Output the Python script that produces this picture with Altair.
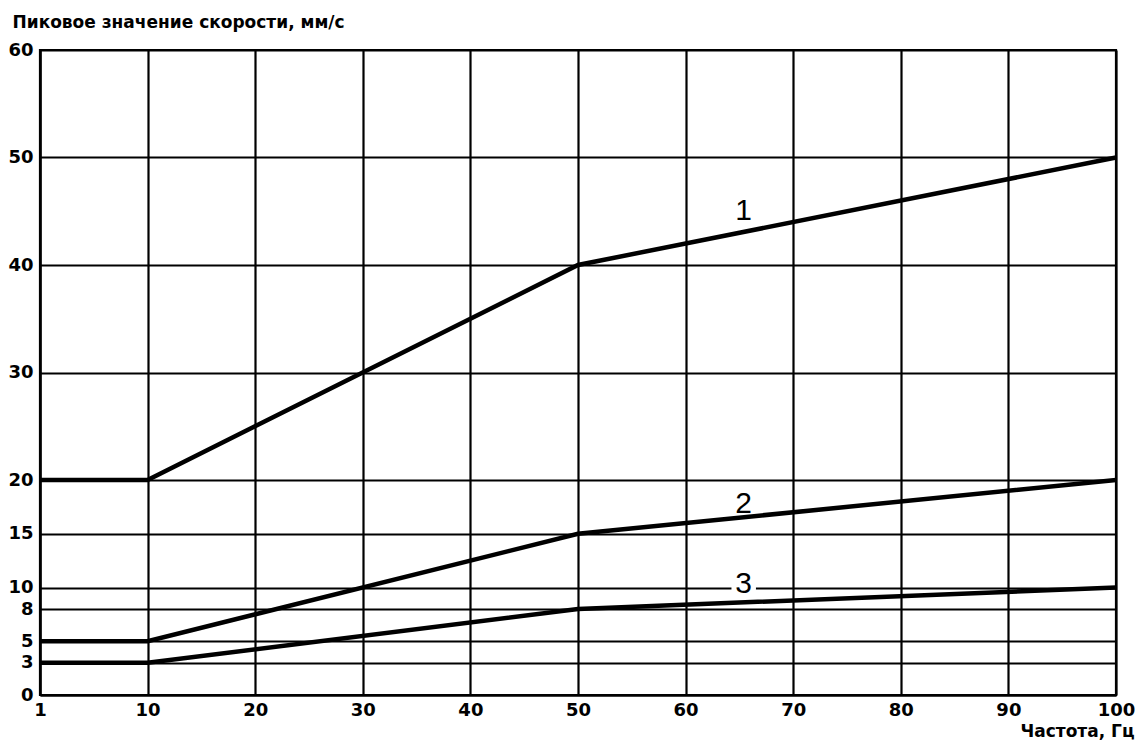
import altair as alt
import pandas as pd

# Data
freq = [1, 10, 50, 100]
curve1 = [20, 20, 40, 50]
curve2 = [5, 5, 15, 20]
curve3 = [3, 3, 8, 10]

x_ticks = [1, 10, 20, 30, 40, 50, 60, 70, 80, 90, 100]
y_ticks = [0, 3, 5, 8, 10, 15, 20, 30, 40, 50, 60]

label_names = ["1", "2", "3"]
label_freq = [65.4, 65.4, 65.4]
label_vel = [45.0, 17.8, 10.3]

rows = []
for name, vals in (("1", curve1), ("2", curve2), ("3", curve3)):
    for f, v in zip(freq, vals):
        rows.append({"curve": name, "freq": f, "vel": v})
df = pd.DataFrame(rows)
lab = pd.DataFrame({"name": label_names, "freq": label_freq, "vel": label_vel})

W, H = 1076, 645
AXFONT = "DejaVu Sans"
NUMFONT = "Liberation Sans"

xscale = alt.Scale(domain=[1, 10, 100], range=[0, W / 10, W], nice=False, zero=False)
yscale = alt.Scale(domain=[0, 60], nice=False, zero=True)

xaxis = alt.Axis(
    values=x_ticks, title="Частота, Гц", grid=True, ticks=False,
    labelFlush=False, labelOverlap=False, labelPadding=6,
    titleAlign="right", titleAnchor="start", titleX=W + 18, titleY=41,
    titleBaseline="alphabetic", titleAngle=0,
)
yaxis = alt.Axis(
    values=y_ticks, title="Пиковое значение скорости, мм/с", grid=True, ticks=False,
    labelFlush=False, labelOverlap=False, labelPadding=7,
    titleAngle=0, titleAlign="left", titleX=-28, titleY=-28,
    titleBaseline="middle", titleAnchor="start",
)

lines = alt.Chart(df).mark_line(color="black", strokeWidth=4.5, strokeJoin="miter", strokeCap="butt").encode(
    x=alt.X("freq:Q", scale=xscale, axis=xaxis),
    y=alt.Y("vel:Q", scale=yscale, axis=yaxis),
    detail="curve:N",
)

mask = alt.Chart(lab[lab["name"] == "3"]).mark_point(
    shape="square", filled=True, color="white", opacity=1, size=600
).encode(
    x=alt.X("freq:Q", scale=xscale),
    y=alt.Y("vel:Q", scale=yscale),
)

texts = alt.Chart(lab).mark_text(
    font=NUMFONT, fontSize=30, fontWeight="normal", color="black", baseline="middle", align="center"
).encode(
    x=alt.X("freq:Q", scale=xscale),
    y=alt.Y("vel:Q", scale=yscale),
    text="name:N",
)

chart = alt.layer(mask, lines, texts).properties(
    width=W, height=H,
    autosize=alt.AutoSizeParams(type="none"),
    padding={"left": 32, "top": 42, "right": 19, "bottom": 45},
).configure(
    font=AXFONT,
).configure_view(
    stroke="black", strokeWidth=2.2,
).configure_axis(
    domainColor="black", domainWidth=2.2, gridColor="black", gridWidth=2.2, gridOpacity=1,
    labelFont=AXFONT, labelFontSize=18, labelFontWeight="bold", labelColor="black",
    titleFont=AXFONT, titleFontSize=17, titleFontWeight="bold", titleColor="black",
)

chart.save("out.html", embed_options={"renderer": "svg", "actions": False})
